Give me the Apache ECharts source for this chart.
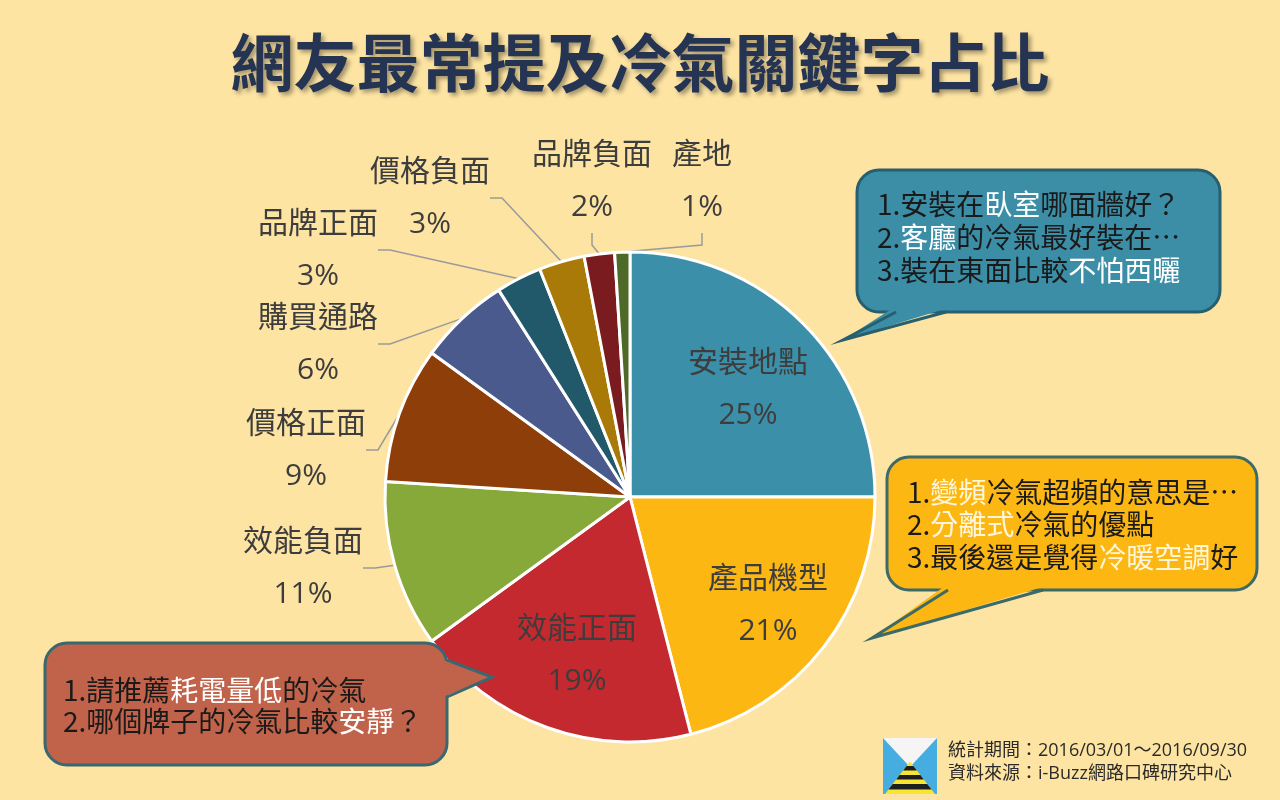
<!DOCTYPE html>
<html>
<head>
<meta charset="utf-8">
<script src="https://cdn.jsdelivr.net/npm/echarts@6/dist/echarts.min.js"></script>
<style>
  html, body { margin: 0; padding: 0; }
  #chart { width: 1280px; height: 800px; }
</style>
</head>
<body>
<div id="chart"></div>
<script>
// 資料
const categories = ['安裝地點', '產品機型', '效能正面', '效能負面', '價格正面', '購買通路', '品牌正面', '價格負面', '品牌負面', '產地'];
const shares = [25, 21, 19, 11, 9, 6, 3, 3, 2, 1];
const sliceColors = ['#3b8fa8', '#fcb713', '#c4292f', '#87a93a', '#8e3e08', '#4a5a8d', '#22596a', '#a97a08', '#7a1c1f', '#4d6a29'];
const insideNames = ['安裝地點', '產品機型', '效能正面'];

const titleText = '網友最常提及冷氣關鍵字占比';
const noteTeal = ['{k|1.安裝在}{w|臥室}{k|哪面牆好？}', '{k|2.}{w|客廳}{k|的冷氣最好裝在…}', '{k|3.裝在東面比較}{w|不怕西曬}'];
const noteYellow = ['{k|1.}{w|變頻}{k|冷氣超頻的意思是…}', '{k|2.}{w|分離式}{k|冷氣的優點}', '{k|3.最後還是覺得}{w|冷暖空調}{k|好}'];
const noteRed = ['{k|1.請推薦}{w|耗電量低}{k|的冷氣}', '{k|2.哪個牌子的冷氣比較}{w|安靜}{k|？}'];
const footLines = ['統計期間：2016/03/01～2016/09/30', '資料來源：i-Buzz網路口碑研究中心'];

// 標籤位置 (中心點)
const labelSpots = {
  '安裝地點': [748, 389], '產品機型': [768, 605], '效能正面': [577, 655],
  '效能負面': [303, 568], '價格正面': [306, 450], '購買通路': [318, 344],
  '品牌正面': [318, 250], '價格負面': [430, 198], '品牌負面': [592, 181], '產地': [702, 181]
};

const FONT = "'Open Sans', 'Noto Sans CJK TC', sans-serif";
const CJK = "'Noto Sans CJK TC', sans-serif";

const pieData = categories.map((name, i) => {
  const inside = insideNames.indexOf(name) >= 0;
  return {
    name: name,
    value: shares[i],
    itemStyle: { color: sliceColors[i] },
    label: { position: inside ? 'inside' : 'outside' },
    labelLine: { show: !inside }
  };
});

function bubble(box, tail, fill, stroke, lines, textPos, lineH, light) {
  const [x, y, w, h] = box;
  return [
    { type: 'rect', z: 100, shape: { x: x, y: y, width: w, height: h, r: 22 },
      style: { fill: fill, stroke: stroke, lineWidth: 3 } },
    { type: 'polygon', z: 101, shape: { points: tail.fillPts }, style: { fill: fill } },
    { type: 'polyline', z: 102, shape: { points: tail.linePts }, style: { stroke: stroke, lineWidth: 3, fill: null } },
    { type: 'text', z: 103, x: textPos[0], y: textPos[1],
      style: {
        text: lines.join('\n'),
        font: '28px ' + CJK,
        lineHeight: lineH,
        verticalAlign: 'top',
        rich: {
          k: { fill: '#1a1a1a', fontSize: 28, fontFamily: CJK, lineHeight: lineH },
          w: { fill: light, fontSize: 28, fontFamily: CJK, lineHeight: lineH }
        }
      } }
  ];
}

function logo(x, y, w, h) {
  const els = [
    { type: 'rect', shape: { x: x, y: y, width: w, height: h }, style: { fill: '#45ade0' } },
    { type: 'polygon', shape: { points: [[x, y], [x + w, y], [x + w / 2, y + h * 0.52]] }, style: { fill: '#f5f5f5' } },
    { type: 'polygon', shape: { points: [[x + w / 2, y + h * 0.42], [x + w - 2, y + h], [x + 2, y + h]] }, style: { fill: '#f7e534' } }
  ];
  const bands = [[0.50, 0.58], [0.66, 0.74], [0.82, 0.92]];
  bands.forEach(b => {
    const t0 = (b[0] - 0.42) / 0.58, t1 = (b[1] - 0.42) / 0.58;
    const hw0 = (w / 2 - 2) * t0, hw1 = (w / 2 - 2) * t1;
    els.push({ type: 'polygon', shape: { points: [
      [x + w / 2 - hw0, y + h * b[0]], [x + w / 2 + hw0, y + h * b[0]],
      [x + w / 2 + hw1, y + h * b[1]], [x + w / 2 - hw1, y + h * b[1]]] },
      style: { fill: '#1e1e1e' } });
  });
  return els.map(e => Object.assign(e, { z: 100 }));
}

const graphics = [].concat(
  bubble([857, 170, 363, 142],
    { fillPts: [[893, 308], [843, 340], [948, 308]], linePts: [[896, 312], [843, 340], [946, 312]] },
    '#3b8ea6', '#285f6e', noteTeal, [877, 188], 33, '#ffffff'),
  bubble([887, 457, 370, 133],
    { fillPts: [[945, 586], [872, 638], [1046, 586]], linePts: [[948, 590], [872, 638], [1043, 590]] },
    '#fcb713', '#3b6a68', noteYellow, [907, 476], 32.5, '#fff6dc'),
  bubble([45, 643, 402, 122],
    { fillPts: [[443, 660], [492, 677], [443, 697]], linePts: [[447, 660], [492, 677], [447, 697]] },
    '#c1624a', '#3a6870', noteRed, [63, 675], 31, '#ffffff'),
  logo(883, 738, 54, 56),
  [{ type: 'text', z: 100, x: 948, y: 739,
     style: { text: footLines.join('\n'), font: '18px ' + FONT, lineHeight: 23, fill: '#2a2a2a', verticalAlign: 'top' } }]
);

const chart = echarts.init(document.getElementById('chart'));
chart.setOption({
  backgroundColor: '#fde4a3',
  title: {
    text: titleText,
    left: 'center',
    top: 26,
    textStyle: {
      fontSize: 63, fontWeight: 'bold', color: '#253452', fontFamily: CJK,
      textShadowColor: 'rgba(0,0,0,0.35)', textShadowBlur: 4,
      textShadowOffsetX: 3, textShadowOffsetY: 3
    }
  },
  series: [{
    type: 'pie',
    center: [630, 497],
    radius: 245,
    startAngle: 90,
    clockwise: true,
    avoidLabelOverlap: false,
    itemStyle: { borderColor: '#ffffff', borderWidth: 3 },
    label: {
      formatter: '{b}\n{c}%',
      fontSize: 30,
      lineHeight: 52,
      color: '#3d3d3d',
      fontFamily: FONT
    },
    labelLine: {
      length: 15, length2: 12, smooth: false,
      lineStyle: { color: '#9a9a9a', width: 1.5 }
    },
    labelLayout: function (p) {
      const spot = labelSpots[categories[p.dataIndex]];
      return { x: spot[0], y: spot[1], align: 'center', verticalAlign: 'middle' };
    },
    emphasis: { disabled: true },
    data: pieData
  }],
  graphic: graphics
});
</script>
</body>
</html>
